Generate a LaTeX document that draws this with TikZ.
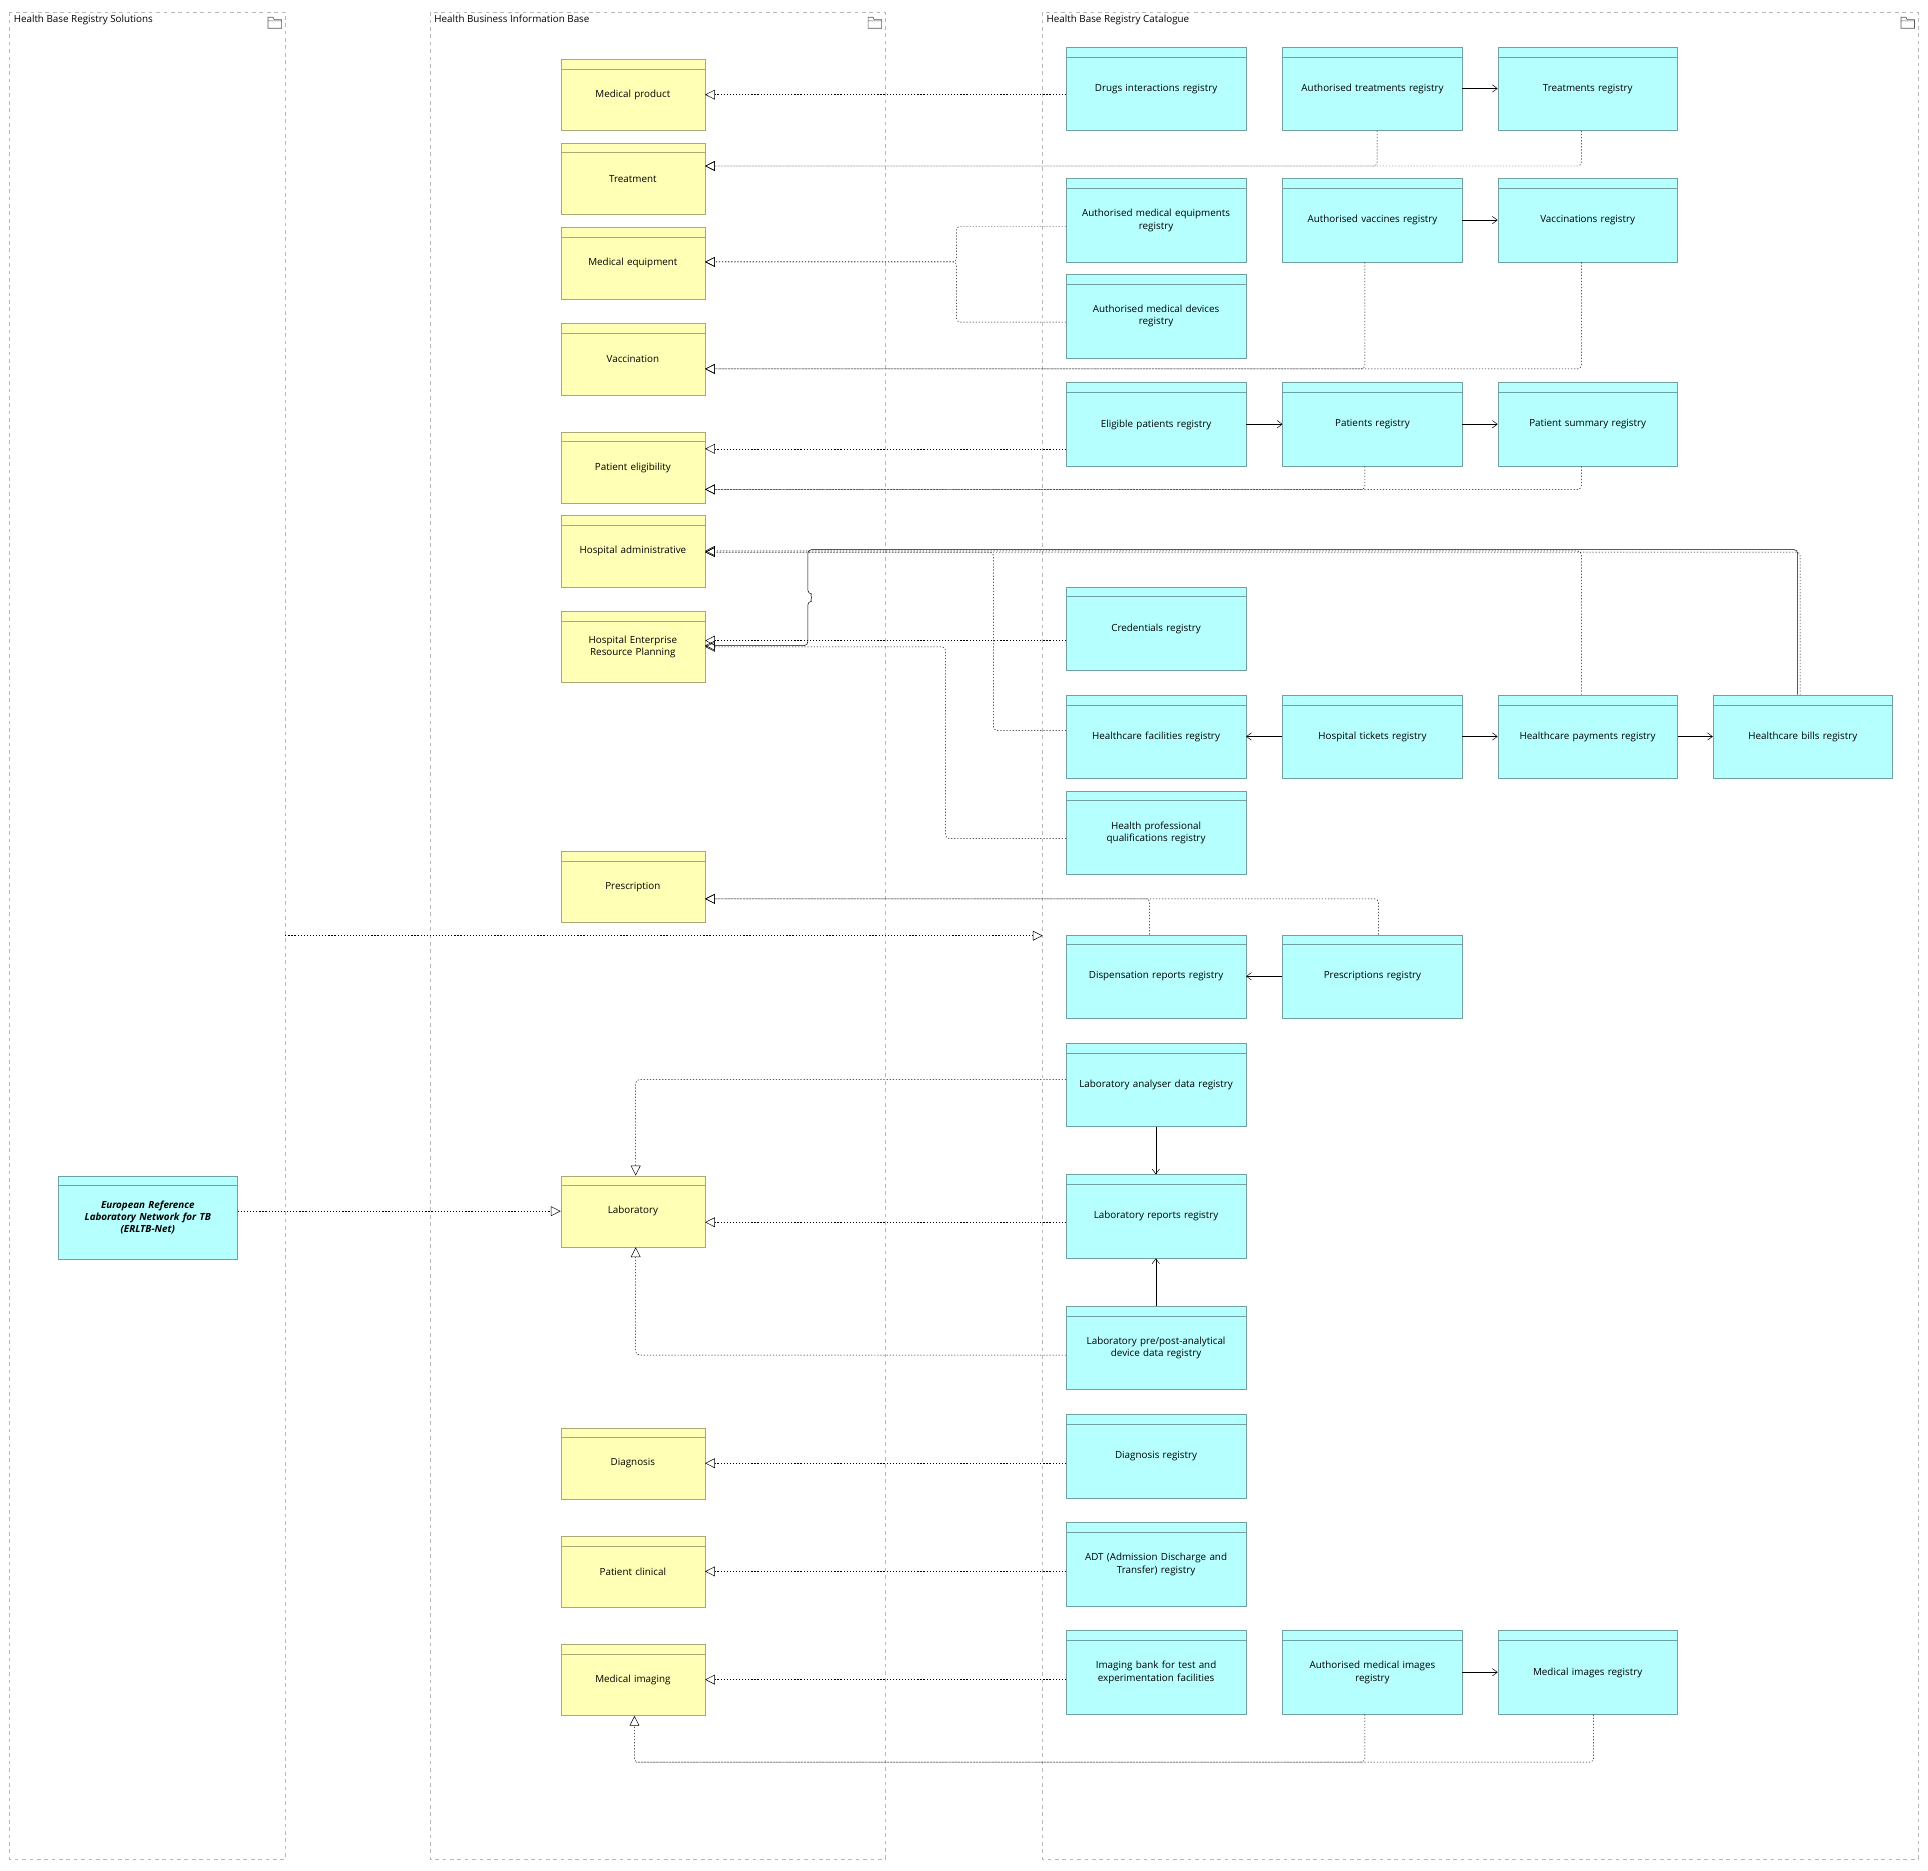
\documentclass[tikz,border=0pt]{standalone}
\usepackage{fontspec}
\setmainfont{Open Sans}
\usetikzlibrary{arrows.meta}
\definecolor{yfill}{HTML}{FFFFB5}
\definecolor{ydraw}{HTML}{A8A878}
\definecolor{cfill}{HTML}{B5FFFF}
\definecolor{cdraw}{HTML}{70A0A0}
\definecolor{gdraw}{HTML}{B8B8B8}
\begin{document}
\begin{tikzpicture}[x=1pt,y=-1pt,
  hdr/.style={path picture={\draw[#1] ([yshift=-8pt]path picture bounding box.north west) -- ([yshift=-8pt]path picture bounding box.north east);}},
  yn/.style={draw=ydraw,fill=yfill,minimum width=117pt,minimum height=58pt,anchor=north west,align=center,text width=110pt,font=\fontsize{8}{10}\selectfont,inner sep=0pt,hdr=ydraw},
  cn/.style={draw=cdraw,fill=cfill,minimum width=146pt,minimum height=68pt,anchor=north west,align=center,text width=140pt,font=\fontsize{8}{10}\selectfont,inner sep=0pt,hdr=cdraw},
  grp/.style={draw=gdraw,dashed,thick},
  dl/.style={dash pattern=on 1pt off 1.5pt,rounded corners=3pt},
  rl/.style={dl,-{Triangle[open,length=8pt,width=8pt]}},
  tr/.style={-{Straight Barb[length=4pt,width=6pt]}},
  glab/.style={anchor=north west,font=\fontsize{8}{10}\selectfont,inner sep=2pt}]
\useasboundingbox (0,0) rectangle (1568,1521);
% groups
\foreach \a/\b/\t [count=\i] in {8/232/Health Base Registry Solutions,350/720/Health Business Information Base,848/1560/Health Base Registry Catalogue}{
  \draw[grp] (\a,10) rectangle (\b,1512);
  \node[glab] (g\i) at (\a+1,10) {\t};
  \draw[gray!70!black,line width=0.5pt] (\b-14,14) -- (\b-14,23) -- (\b-3,23) -- (\b-3,16) -- (\b-9,16) -- (\b-10,14) -- cycle (\b-14,17)--(\b-3,17);
}
\coordinate (g1r) at (232,761);
\coordinate (g3l) at (848,761);
\coordinate (mij) at (516,1433);
% yellow
\node[yn] (mp) at (456,48) {Medical product};
\node[yn] (tr) at (456,116) {Treatment};
\node[yn] (me) at (456,185) {Medical equipment};
\node[yn] (va) at (456,263) {Vaccination};
\node[yn] (pe) at (456,351) {Patient eligibility};
\node[yn] (ha) at (456,419) {Hospital administrative};
\node[yn] (erp) at (456,497) {Hospital Enterprise\\Resource Planning};
\node[yn] (pr) at (456,692) {Prescription};
\node[yn] (lab) at (456,956) {Laboratory};
\node[yn] (dia) at (456,1161) {Diagnosis};
\node[yn] (pc) at (456,1249) {Patient clinical};
\node[yn] (mi) at (456,1337) {Medical imaging};
% cyan
\node[cn] (dir) at (867,38) {Drugs interactions registry};
\node[cn] (atr) at (1043,38) {Authorised treatments registry};
\node[cn] (trr) at (1218,38) {Treatments registry};
\node[cn] (ame) at (867,145) {Authorised medical equipments\\registry};
\node[cn] (avr) at (1043,145) {Authorised vaccines registry};
\node[cn] (var) at (1218,145) {Vaccinations registry};
\node[cn] (amd) at (867,223) {Authorised medical devices\\registry};
\node[cn] (epr) at (867,311) {Eligible patients registry};
\node[cn] (par) at (1043,311) {Patients registry};
\node[cn] (psr) at (1218,311) {Patient summary registry};
\node[cn] (crr) at (867,477) {Credentials registry};
\node[cn] (hfr) at (867,565) {Healthcare facilities registry};
\node[cn] (htr) at (1043,565) {Hospital tickets registry};
\node[cn] (hpr) at (1218,565) {Healthcare payments registry};
\node[cn] (hbr) at (1393,565) {Healthcare bills registry};
\node[cn] (hqr) at (867,643) {Health professional\\qualifications registry};
\node[cn] (drr) at (867,760) {Dispensation reports registry};
\node[cn] (prr) at (1043,760) {Prescriptions registry};
\node[cn] (lad) at (867,848) {Laboratory analyser data registry};
\node[cn] (lrr) at (867,955) {Laboratory reports registry};
\node[cn] (lpp) at (867,1062) {Laboratory pre/post-analytical\\device data registry};
\node[cn] (dgr) at (867,1150) {Diagnosis registry};
\node[cn] (adt) at (867,1238) {ADT (Admission Discharge and\\Transfer) registry};
\node[cn] (ibk) at (867,1326) {Imaging bank for test and\\experimentation facilities};
\node[cn] (ami) at (1043,1326) {Authorised medical images\\registry};
\node[cn] (mir) at (1218,1326) {Medical images registry};
\node[cn,font=\bfseries\itshape\fontsize{8}{10}\selectfont] (erl) at (47,956) {European Reference\\Laboratory Network for TB\\(ERLTB-Net)};
% realizations
\draw[rl] (dir.west |- 0,77) -- (mp.east |- 0,77);
\draw[rl] (atr.south -| 1120,0) |- (tr.east |- 0,135);
\draw[rl] (trr.south -| 1286,0) |- (tr.east |- 0,135);
\draw[rl] (ame.west |- 0,184) -| (778,213) -- (me.east |- 0,213);
\draw[rl] (amd.west |- 0,262) -| (778,213) -- (me.east |- 0,213);
\draw[rl] (avr.south -| 1110,0) |- (va.east |- 0,300);
\draw[rl] (var.south -| 1286,0) |- (va.east |- 0,300);
\draw[rl] (epr.west |- 0,365) -- (pe.east |- 0,365);
\draw[rl] (par.south -| 1110,0) |- (pe.east |- 0,398);
\draw[rl] (psr.south -| 1286,0) |- (pe.east |- 0,398);
\draw[rl] (hpr.north -| 1286,0) |- (ha.east |- 0,448);
\draw[rl] (hbr.north -| 1464,0) |- (ha.east |- 0,449);
\draw[rl] (hfr.west |- 0,594) -| (808,449) -- (ha.east |- 0,449);
\draw[rl] (crr.west |- 0,521) -- (erp.east |- 0,521);
\draw[rl] (hqr.west |- 0,682) -| (769,526) -- (erp.east |- 0,526);
\draw[rounded corners=3pt,-{Triangle[open,length=8pt,width=8pt]}] (hbr.north -| 1462,0) |- (657,447) -- (657,483) arc[start angle=90,end angle=-90,radius=3pt] -- (657,525) -- (erp.east |- 0,525);
\draw[rl] (drr.north -| 935,0) |- (pr.east |- 0,731);
\draw[rl] (prr.north -| 1121,0) |- (pr.east |- 0,731);
\draw[rl] (g1r) -- (g3l);
\draw[rl] (lad.west |- 0,878) -| (lab.north -| 517,0);
\draw[rl] (lrr.west |- 0,994) -- (lab.east |- 0,994);
\draw[rl] (lpp.west |- 0,1102) -| (lab.south -| 517,0);
\draw[rl] (erl.east |- 0,985) -- (lab.west |- 0,985);
\draw[rl] (dgr.west |- 0,1190) -- (dia.east |- 0,1190);
\draw[rl] (adt.west |- 0,1278) -- (pc.east |- 0,1278);
\draw[rl] (ibk.west |- 0,1366) -- (mi.east |- 0,1366);
\draw[rl] (ami.south -| 1110,0) |- (mij) -- (mi.south -| 516,0);
\draw[dl] (mir.south -| 1296,0) |- (mij);
% triggering
\draw[tr] (atr.east |- 0,72) -- (trr.west |- 0,72);
\draw[tr] (avr.east |- 0,179) -- (var.west |- 0,179);
\draw[tr] (epr.east |- 0,345) -- (par.west |- 0,345);
\draw[tr] (par.east |- 0,345) -- (psr.west |- 0,345);
\draw[tr] (htr.west |- 0,599) -- (hfr.east |- 0,599);
\draw[tr] (htr.east |- 0,599) -- (hpr.west |- 0,599);
\draw[tr] (hpr.east |- 0,599) -- (hbr.west |- 0,599);
\draw[tr] (prr.west |- 0,794) -- (drr.east |- 0,794);
\draw[tr] (lad.south -| 940,0) -- (lrr.north -| 940,0);
\draw[tr] (lpp.north -| 940,0) -- (lrr.south -| 940,0);
\draw[tr] (ami.east |- 0,1360) -- (mir.west |- 0,1360);
\end{tikzpicture}
\end{document}
